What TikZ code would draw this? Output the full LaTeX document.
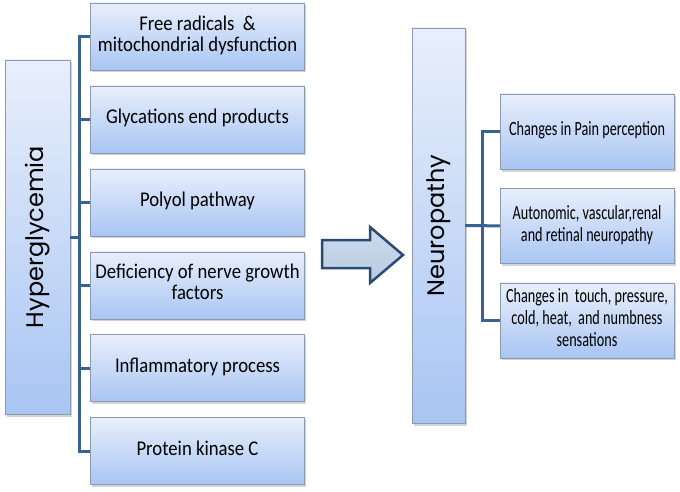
\documentclass[tikz,border=0pt]{standalone}
\usepackage{fontspec}
\setmainfont{Carlito}
\newfontfamily\headfont{Poppins}
\usepackage{graphicx}
\usepackage{tikz}
\usetikzlibrary{positioning,shadows}
\definecolor{boxtop}{HTML}{E8EFFB}
\definecolor{boxbot}{HTML}{A9C5F3}
\definecolor{boxedge}{HTML}{8C9AB0}
\definecolor{busblue}{HTML}{3A6291}
\definecolor{arrowfill}{HTML}{B8CBE3}
\definecolor{arrowedge}{HTML}{2B4A70}
\newcommand{\causetext}[1]{\scalebox{1}[1.12]{\begin{tabular}{@{}c@{}}#1\end{tabular}}}
\newcommand{\effecttext}[1]{\scalebox{1}[1.42]{\begin{tabular}{@{}c@{}}#1\end{tabular}}}
\tikzset{
	causebox/.style={draw=boxedge, top color=boxtop, bottom color=boxbot, drop shadow={shadow xshift=1.5pt, shadow yshift=-2.5pt, opacity=.35}, minimum width=214pt, minimum height=67pt, inner sep=0pt, font=\fontsize{18.7}{18.8}\selectfont},
	effectbox/.style={causebox, minimum width=174pt, minimum height=75pt, font=\fontsize{14.2}{15.4}\selectfont},
	mainbox/.style={causebox, font=\headfont},
	bus/.style={draw=busblue, line width=3pt}
}
\begin{document}
\begin{tikzpicture}[x=1pt,y=-1pt]
	\useasboundingbox (0,0) rectangle (680,492);
			\node (hyper)[mainbox, minimum width=65pt, minimum height=354pt] at (37.5,237) {\rotatebox{90}{\fontsize{24}{28}\selectfont Hyperglycemia}};
			\node (free)[causebox] at (197.5,36.5) {\causetext{Free radicals~~\&\\mitochondrial dysfunction}};
			\node (glycation)[causebox, below=15.5pt of free] {\causetext{Glycations end products}};
			\node (polyol)[causebox, below=15.5pt of glycation] {\causetext{Polyol pathway}};
			\node (nerve)[causebox, below=15.5pt of polyol] {\causetext{Deficiency of nerve growth\\factors}};
			\node (inflam)[causebox, below=15.5pt of nerve] {\causetext{Inflammatory process}};
			\node (kinase)[causebox, below=15.5pt of inflam] {\causetext{Protein kinase C}};

			\node (neuro)[mainbox, minimum width=53pt, minimum height=395pt] at (438.5,225.5) {\rotatebox{90}{\fontsize{24}{28}\selectfont Neuropathy}};
			\node (pain)[effectbox] at (587,131.5) {\effecttext{Changes in Pain perception}};
			\node (auto)[effectbox, below=19pt of pain] {\effecttext{Autonomic, vascular,renal\\and retinal neuropathy}};
			\node (touch)[effectbox, below=19pt of auto] {\effecttext{Changes in~~touch, pressure,\\cold, heat,~~and numbness\\sensations}};

		\draw [bus] (free.west) -- ++(-11,0) |- (kinase.west);
		\foreach \n in {glycation,polyol,nerve,inflam}
			\draw [bus] (\n.west) -- ++(-11,0);
		\draw [bus] (hyper.east) -- ++(10,0);
		\draw [bus] (pain.west) -- ++(-17,0) |- (touch.west);
		\draw [bus] (neuro.east) -- (auto.west);

		\draw [arrowedge, line width=2.5pt, line join=miter, top color=arrowfill!70!white, bottom color=arrowfill] (322,240) -- (370,240) -- (370,227) -- (403,255) -- (370,283) -- (370,268) -- (322,268) -- cycle;
\end{tikzpicture}
\end{document}
